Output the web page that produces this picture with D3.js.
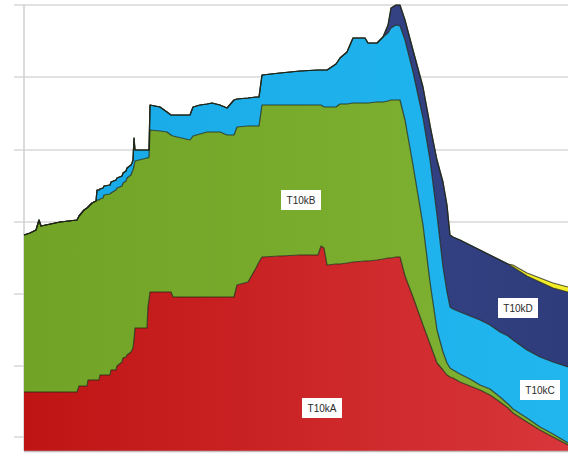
<!DOCTYPE html>
<html>
<head>
<meta charset="utf-8">
<script src="https://cdn.jsdelivr.net/npm/d3@7"></script>
<style>
  html, body { margin: 0; padding: 0; background: #ffffff; }
  svg { display: block; }
</style>
</head>
<body>
<svg id="chart" width="568" height="458"></svg>
<script>
// ---- data ----
const periods = [0,6,12,15,17,36,
  53,55,60,63,64,68,72,73,75,76,79,80,86,87,92,93,98,99,102,103,107,108,109,110,111,123,124,125,126,
  136,143,147,149,166,169,176,183,188,196,203,210,
  213,224,232,235,238,256,276,294,297,300,303,
  312,316,323,329,341,344,353,359,364,367,372,376,
  381,389,399,406,413,419,423,426,429,436,
  446,456,466,476,484,489,503,516,529,544];

const seriesNames = ["T10kA", "T10kB", "T10kC", "T10kD", "T10kE"];

const valuesA = [59,59,59,59,59,59,
  59,65,65,65,71,71,71,71,71,76,76,76,76,81,81,85,89,93,94,96,99,101,103,111,123,123,144,151,159,
  159,159,159,154,154,154,154,154,154,154,154,154,
  166,169,183,189,194,195,196,196,205,203,186,
  187,187,188,189,190,190,191,192,193,193,194,194,
  175,154,126,107,88,81,76,74,73,69,
  65,61,56,49,43,38,29,21,14,6];

const valuesB = [157,159,162,172,166,170,
  172,170,176,178,173,177,179,180,180,176,177,180,181,177,180,178,176,175,176,177,177,178,178,174,167,170,149,143,162,
  161,160,157,161,157,161,163,165,165,165,162,162,
  158,156,142,136,152,151,150,150,141,141,158,
  157,160,159,159,158,158,158,157,157,158,157,157,
  156,132,100,62,33,18,12,9,8,8,
  7,5,6,5,4,4,4,3,3,2];

const valuesC = [0,0,0,0,0,0,
  0,0,0,0,0,0,0,10,10,10,10,9,9,11,10,10,10,10,10,10,10,9,10,28,11,8,8,7,25,
  24,20,20,21,25,29,29,28,29,27,27,35,
  28,28,29,29,30,32,34,35,35,37,37,
  43,46,52,65,65,60,59,65,68,72,75,74,
  80,93,107,122,115,85,71,61,61,62,
  63,65,64,65,68,69,68,70,72,76];

const valuesD = [0,0,0,0,0,0,
  0,0,0,0,0,0,0,0,0,0,0,0,0,0,0,0,0,0,0,0,0,0,0,0,0,0,0,0,0,
  0,0,0,0,0,0,0,0,0,0,0,0,
  0,0,0,0,0,0,0,0,0,0,0,
  0,0,0,0,0,0,0,0,8,20,20,21,
  20,22,31,35,55,85,87,72,72,72,
  71,70,70,72,72,73,74,75,74,75];

const valuesE = [0,0,0,0,0,0,
  0,0,0,0,0,0,0,0,0,0,0,0,0,0,0,0,0,0,0,0,0,0,0,0,0,0,0,0,0,
  0,0,0,0,0,0,0,0,0,0,0,0,
  0,0,0,0,0,0,0,0,0,0,0,
  0,0,0,0,0,0,0,0,0,0,0,0,
  0,0,0,0,0,0,0,0,0,0,
  0,0,0,0,0,2,3,4,5,5];

const gridValues = [14, 85, 157, 229, 301, 374, 446];

const labelNames = ["T10kB", "T10kA", "T10kD", "T10kC"];
const labelPeriods = [277, 298, 494, 516];
const labelLevels = [251, 43, 143, 61];

// ---- build ----
const seriesValues = [valuesA, valuesB, valuesC, valuesD, valuesE];
const rows = periods.map((p, i) => {
  const r = { period: p };
  seriesNames.forEach((n, k) => r[n] = seriesValues[k][i]);
  return r;
});

const svg = d3.select("#chart");
const mLeft = 24, mRight = 568, mTop = 5, mBottom = 451;

const x = d3.scaleLinear().domain([0, 544]).range([mLeft, mRight]);
const y = d3.scaleLinear().domain([0, 446]).range([mBottom, mTop]);

const colors = {
  T10kA: ["#bf1414", "#d8363a"],
  T10kB: ["#71a326", "#80b333"],
  T10kC: ["#17a9e6", "#22b6ef"],
  T10kD: ["#3c4c90", "#2f3c7c"],
  T10kE: ["#ece41a", "#f4ee2a"]
};

const defs = svg.append("defs");
seriesNames.forEach(n => {
  const g = defs.append("linearGradient").attr("id", "g-" + n)
    .attr("x1", "0%").attr("x2", "100%").attr("y1", "0%").attr("y2", "0%");
  g.append("stop").attr("offset", "0%").attr("stop-color", colors[n][0]);
  g.append("stop").attr("offset", "100%").attr("stop-color", colors[n][1]);
});

// grid
const gridG = svg.append("g");
gridG.selectAll("line.grid").data(gridValues).join("line")
  .attr("class", "grid")
  .attr("x1", mLeft - 10).attr("x2", mRight)
  .attr("y1", d => y(d)).attr("y2", d => y(d))
  .attr("stroke", "#d8d8d8").attr("stroke-width", 1.5);

svg.append("line").attr("x1", mLeft).attr("x2", mLeft).attr("y1", mTop).attr("y2", mBottom)
  .attr("stroke", "#cfcfcf").attr("stroke-width", 1.5);

const stack = d3.stack().keys(seriesNames);
const layers = stack(rows);

const area = d3.area()
  .x(d => x(d.data.period))
  .y0(d => y(d[0]))
  .y1(d => y(d[1]));

const topLine = d3.line()
  .x(d => x(d.data.period))
  .y(d => y(d[1]));

svg.append("g").selectAll("path.area").data(layers).join("path")
  .attr("class", "area")
  .attr("d", area)
  .attr("fill", d => "url(#g-" + d.key + ")");

svg.append("g").selectAll("path.edge").data(layers).join("path")
  .attr("class", "edge")
  .attr("d", topLine)
  .attr("fill", "none")
  .attr("stroke", "#1d2416")
  .attr("stroke-opacity", 0.75)
  .attr("stroke-width", 1.2)
  .attr("stroke-linejoin", "round");

svg.append("line").attr("x1", mLeft).attr("x2", mRight).attr("y1", mBottom + 0.5).attr("y2", mBottom + 0.5)
  .attr("stroke", "#bdbdbd").attr("stroke-width", 1.5);

// labels
const lab = svg.append("g").selectAll("g.lab").data(labelNames).join("g")
  .attr("class", "lab")
  .attr("transform", (d, i) => `translate(${x(labelPeriods[i])},${y(labelLevels[i])})`);
lab.append("rect")
  .attr("x", -20).attr("y", -10).attr("width", 40).attr("height", 20)
  .attr("fill", "#ffffff");
lab.append("text")
  .attr("text-anchor", "middle").attr("dy", "0.35em")
  .attr("font-family", "Liberation Sans, Arial, sans-serif")
  .attr("font-size", 10).attr("fill", "#2a2a2a")
  .text(d => d);
</script>
</body>
</html>
